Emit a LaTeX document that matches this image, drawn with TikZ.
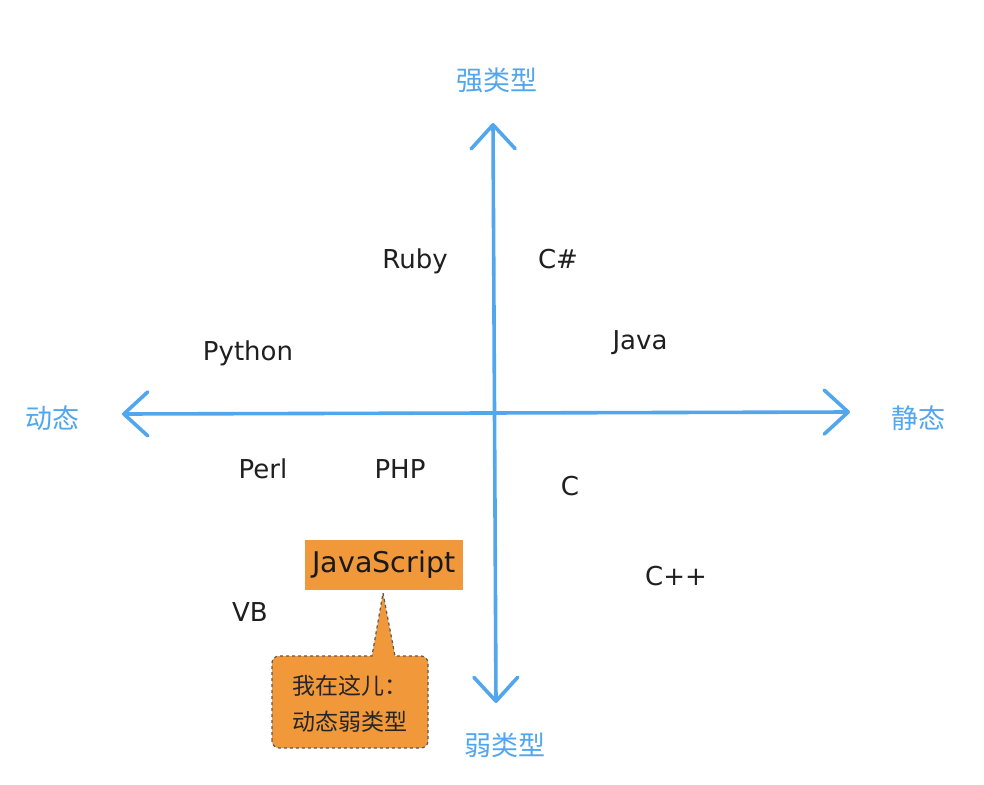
\documentclass[tikz,border=0pt]{standalone}
\usepackage{fontspec}
\setmainfont{DejaVu Sans}
\newfontfamily\cjk{Noto Sans CJK SC}
\usetikzlibrary{arrows.meta}
\definecolor{axisblue}{RGB}{82,166,238}
\definecolor{orangefill}{RGB}{240,152,58}
\definecolor{dashgray}{RGB}{90,90,90}
\tikzset{
  axis/.style={draw=axisblue, line width=3.6pt, line cap=round,
    {Straight Barb[length=24pt,width=44pt,line width=3.6pt,round]}-{Straight Barb[length=24pt,width=44pt,line width=3.6pt,round]}},
  lang/.style={text=black!88, font=\fontsize{26}{30}\selectfont, inner sep=0pt},
  axlabel/.style={text=axisblue, font=\cjk\fontsize{27}{30}\selectfont, inner sep=0pt},
  jsbox/.style={fill=orangefill, text=black!90, font=\fontsize{28.5}{32}\selectfont, minimum width=158pt, minimum height=50pt, inner sep=0pt},
  noteshape/.style={fill=orangefill, draw=dashgray, dashed, line width=1.2pt},
  notetext/.style={align=center, font=\cjk\fontsize{23}{36}\selectfont, text=black!85, inner sep=0pt}
}
\begin{document}
\begin{tikzpicture}[x=1pt,y=-1pt]
\useasboundingbox (0,0) rectangle (984,784);
\fill[white] (0,0) rectangle (984,784);
% axes
\coordinate (top) at (493,123);
\coordinate (bottom) at (496,703);
\coordinate (left) at (122,414);
\coordinate (right) at (850,412);
\draw[axis] (bottom) -- (top);
\draw[axis] (left) -- (right);
% axis labels
\node[axlabel] (strong) at (497,80) {强类型};
\node[axlabel] (weak) at (505,745) {弱类型};
\node[axlabel] (dynamic) at (52,418) {动态};
\node[axlabel] (static) at (918,418) {静态};
% languages
\node[lang] (ruby) at (415,261) {Ruby};
\node[lang] (csharp) at (558,259) {C\#};
\node[lang] (java) at (640,343) {Java};
\node[lang] (python) at (248,353) {Python};
\node[lang] (perl) at (263,469) {Perl};
\node[lang] (php) at (400,469) {PHP};
\node[lang] (c) at (570,486) {C};
\node[lang] (cpp) at (676,576) {C++};
\node[lang] (vb) at (250,612) {VB};
% JavaScript
\node[jsbox] (js) at (384,565) {JavaScript};
% callout
\coordinate (tip) at (383,593);
\coordinate (pl) at (372,656);
\coordinate (pr) at (395,656);
\coordinate (sw) at (272,748);
\coordinate (nw) at (272,656);
\coordinate (ne) at (428,656);
\coordinate (se) at (428,748);
\path[noteshape, rounded corners=7pt] (sw) -- (nw) [sharp corners] -- (pl) -- (tip) -- (pr) [rounded corners=7pt] -- (ne) -- (se) -- cycle;
\node[notetext] (note) at (350,704) {我在这儿：\\动态弱类型};
\end{tikzpicture}
\end{document}
